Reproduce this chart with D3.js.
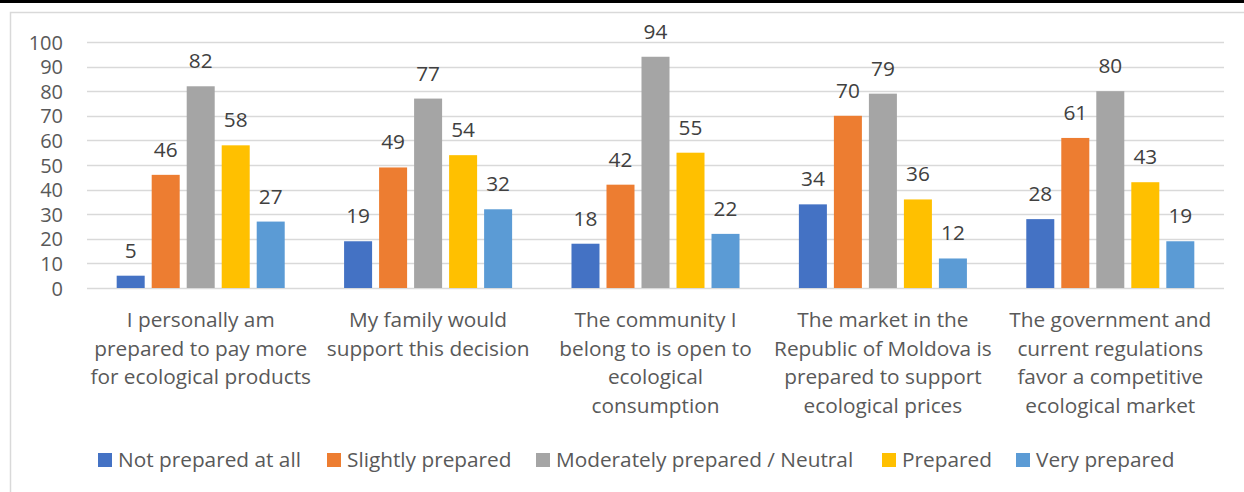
<!DOCTYPE html>
<html>
<head>
<meta charset="utf-8">
<script src="https://cdn.jsdelivr.net/npm/d3@7"></script>
<style>
  html, body { margin: 0; padding: 0; background: #fff; }
  svg { display: block; }
  text { font-family: "Open Sans", "Noto Sans", sans-serif; }
</style>
</head>
<body>
<svg id="chart" width="1244" height="492"></svg>
<script>
// Survey statements (x categories), wrapped as drawn under each group
const categories = [
  ["I personally am", "prepared to pay more", "for ecological products"],
  ["My family would", "support this decision"],
  ["The community I", "belong to is open to", "ecological", "consumption"],
  ["The market in the", "Republic of Moldova is", "prepared to support", "ecological prices"],
  ["The government and", "current regulations", "favor a competitive", "ecological market"]
];

// Response levels (series)
const seriesNames = [
  "Not prepared at all",
  "Slightly prepared",
  "Moderately prepared / Neutral",
  "Prepared",
  "Very prepared"
];

// Counts per series, one value per statement
const notPrepared       = [5, 19, 18, 34, 28];
const slightlyPrepared  = [46, 49, 42, 70, 61];
const moderatelyNeutral = [82, 77, 94, 79, 80];
const prepared          = [58, 54, 55, 36, 43];
const veryPrepared      = [27, 32, 22, 12, 19];

const yTicks = [0, 10, 20, 30, 40, 50, 60, 70, 80, 90, 100];

const seriesValues = [notPrepared, slightlyPrepared, moderatelyNeutral, prepared, veryPrepared];
const colors = ["#4472C4", "#ED7D31", "#A5A5A5", "#FFC000", "#5B9BD5"];

const svg = d3.select("#chart");
const W = 1244, H = 492;
const FS = "20.8px";

// Page rule across the top and the light chart frame
svg.append("rect").attr("x", 0).attr("y", 0).attr("width", W).attr("height", 3).attr("fill", "#000");
svg.append("rect")
  .attr("x", 10.5).attr("y", 12.5).attr("width", W + 20).attr("height", H + 20)
  .attr("fill", "none").attr("stroke", "#D9D9D9").attr("stroke-width", 1.5);

const plot = { left: 87, right: 1224, top: 42, bottom: 288 };

const x0 = d3.scaleBand()
  .domain(d3.range(categories.length))
  .range([plot.left, plot.right])
  .paddingInner(0).paddingOuter(0);

// Bar width from the group gap (≈212%) and series overlap (-25%)
const band = x0.bandwidth();
const barW = band / (5 + 4 * 0.25 + 2.12);
const step = barW * 1.25;

const y = d3.scaleLinear().domain([0, 100]).range([plot.bottom, plot.top]);

// Gridlines
svg.append("g")
  .selectAll("line")
  .data(yTicks)
  .join("line")
  .attr("x1", plot.left).attr("x2", plot.right)
  .attr("y1", d => Math.round(y(d)) + 0.5).attr("y2", d => Math.round(y(d)) + 0.5)
  .attr("stroke", "#D9D9D9").attr("stroke-width", 1.5);

// Y axis labels
const yAxis = d3.axisLeft(y).tickValues(yTicks).tickSize(0).tickPadding(0);
const yg = svg.append("g").attr("transform", `translate(63,0)`).call(yAxis);
yg.select(".domain").remove();
yg.selectAll("text")
  .attr("fill", "#595959")
  .style("font-size", "20px")
  .style("font-family", "'Open Sans', sans-serif")
  .attr("dy", "0.35em");

// Bars and value labels
seriesValues.forEach((vals, s) => {
  const g = svg.append("g");
  const xOf = i => x0(i) + (band - (5 * barW + 4 * 0.25 * barW)) / 2 + s * step;
  g.selectAll("rect")
    .data(vals)
    .join("rect")
    .attr("x", (d, i) => xOf(i))
    .attr("y", d => y(d))
    .attr("width", barW)
    .attr("height", d => y(0) - y(d))
    .attr("fill", colors[s]);
  g.selectAll("text")
    .data(vals)
    .join("text")
    .attr("x", (d, i) => xOf(i) + barW / 2)
    .attr("y", d => y(d) - 18)
    .attr("text-anchor", "middle")
    .attr("fill", "#404040")
    .style("font-size", FS)
    .text(d => d);
});

// Category labels
const catG = svg.append("g");
categories.forEach((lines, i) => {
  const t = catG.append("text")
    .attr("x", x0(i) + band / 2)
    .attr("y", 327)
    .attr("text-anchor", "middle")
    .attr("fill", "#595959")
    .style("font-size", FS);
  lines.forEach((ln, k) => {
    t.append("tspan")
      .attr("x", x0(i) + band / 2)
      .attr("y", 327 + k * 28.5)
      .text(ln);
  });
});

// Legend
const legendX = [98, 327, 536, 882, 1016];
const lg = svg.append("g");
seriesNames.forEach((name, s) => {
  lg.append("rect")
    .attr("x", legendX[s]).attr("y", 453)
    .attr("width", 14).attr("height", 14)
    .attr("fill", colors[s]);
  lg.append("text")
    .attr("x", legendX[s] + 20).attr("y", 467)
    .attr("fill", "#595959")
    .style("font-size", FS)
    .text(name);
});
</script>
</body>
</html>
